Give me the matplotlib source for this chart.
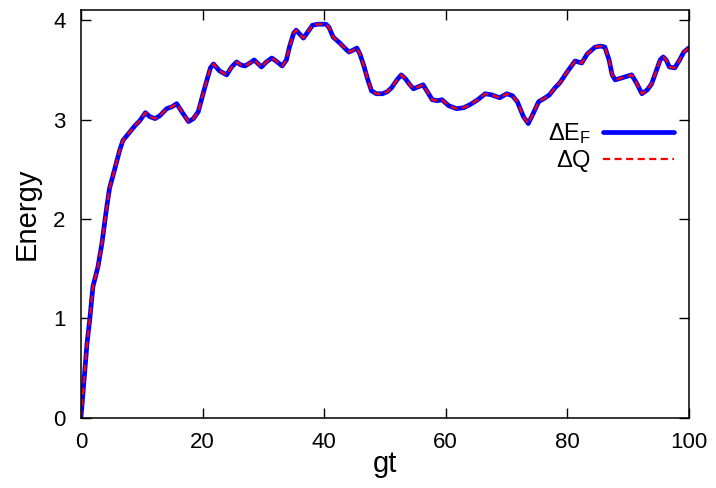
import matplotlib
matplotlib.use('Agg')
import matplotlib.pyplot as plt
import numpy as np

plt.rcParams['font.family'] = ['Liberation Sans', 'DejaVu Sans']
plt.rcParams['mathtext.default'] = 'regular'

# values (both series overlap)
gt = [0, 0.6, 1.0, 1.43, 1.97, 2.8, 3.46, 4.17, 4.7, 5.5, 6.36, 6.9, 7.7, 8.9, 9.7,
      10.6, 11.3, 12.2, 13.0, 14.1, 15.0, 15.75, 16.8, 17.7, 18.5, 19.3, 20.4, 21.3,
      21.8, 22.8, 23.97, 24.8, 25.6, 26.3, 27.0, 27.8, 28.5, 29.7, 30.5, 31.4, 32.3,
      33.1, 33.8, 34.3, 35.0, 35.4, 36.0, 36.6, 37.3, 38.1, 39.0, 40.3, 40.8, 41.5,
      42.6, 43.4, 44.1, 44.8, 45.4, 45.9, 46.5, 47.2, 47.8, 48.6, 49.6, 50.4, 51.1,
      52.0, 52.7, 53.4, 54.0, 54.7, 55.5, 56.3, 57.0, 57.8, 58.6, 59.4, 60.5, 61.8,
      63.0, 64.0, 65.3, 66.5, 67.5, 68.9, 70.05, 71.0, 71.8, 72.8, 73.6, 74.4, 75.3,
      76.4, 77.1, 78.0, 78.8, 80.0, 81.3, 81.8, 82.4, 83.3, 84.6, 85.5, 86.2, 86.9,
      87.4, 87.9, 89.0, 90.6, 91.4, 92.3, 93.2, 93.9, 94.6, 95.3, 95.8, 96.3, 96.8,
      97.7, 98.5, 99.2, 100.0]
delta_ef = [0.0, 0.45, 0.75, 0.98, 1.32, 1.52, 1.76, 2.09, 2.31, 2.49, 2.69, 2.79, 2.85,
            2.94, 2.99, 3.07, 3.03, 3.01, 3.04, 3.11, 3.13, 3.16, 3.06, 2.98, 3.01, 3.08,
            3.33, 3.52, 3.56, 3.49, 3.45, 3.53, 3.58, 3.55, 3.54, 3.57, 3.60, 3.53, 3.58,
            3.62, 3.58, 3.54, 3.60, 3.73, 3.87, 3.90, 3.86, 3.82, 3.88, 3.95, 3.96, 3.96,
            3.93, 3.83, 3.77, 3.72, 3.68, 3.70, 3.72, 3.66, 3.55, 3.40, 3.29, 3.26, 3.26,
            3.28, 3.32, 3.40, 3.45, 3.41, 3.36, 3.31, 3.33, 3.35, 3.28, 3.20, 3.19, 3.20,
            3.14, 3.11, 3.12, 3.15, 3.20, 3.26, 3.25, 3.22, 3.26, 3.24, 3.18, 3.03, 2.96,
            3.06, 3.18, 3.22, 3.25, 3.32, 3.37, 3.48, 3.59, 3.58, 3.57, 3.66, 3.73, 3.74,
            3.73, 3.60, 3.45, 3.40, 3.42, 3.45, 3.37, 3.26, 3.30, 3.36, 3.48, 3.60, 3.63,
            3.60, 3.53, 3.52, 3.60, 3.68, 3.72]
delta_q = list(delta_ef)

xticks = [0, 20, 40, 60, 80, 100]
yticks = [0, 1, 2, 3, 4]

fig = plt.figure(figsize=(7.16, 4.88), dpi=100)
ax = fig.add_axes([0.1131, 0.1441, 0.8488, 0.8348])

ax.plot(gt, delta_ef, color='#0000ff', lw=3.4, label=r'$\Delta E_F$',
        solid_joinstyle='round', solid_capstyle='round')
ax.plot(gt, delta_q, color='#ff0000', lw=1.6, dashes=(3.2, 2), label=r'$\Delta Q$',
        dash_joinstyle='round')

ax.set_xlim(0, 100)
ax.set_ylim(0, 4.1)
ax.set_xticks(xticks)
ax.set_yticks(yticks)
ax.tick_params(direction='in', length=7.5, width=1.0, top=True, right=True,
               labelsize=16)
ax.tick_params(axis='x', pad=10)
ax.tick_params(axis='y', pad=11)
for s in ax.spines.values():
    s.set_linewidth(1.1)

ax.set_xlabel('gt', fontsize=21, labelpad=-2)
ax.set_ylabel('Energy', fontsize=21, labelpad=9)

ax.legend(loc='upper right', bbox_to_anchor=(0.976, 0.728), frameon=False,
          markerfirst=False, fontsize=17, handlelength=3.0, handletextpad=0.5,
          borderpad=0, borderaxespad=0, labelspacing=0.1)

fig.savefig('out.png', dpi=100)
